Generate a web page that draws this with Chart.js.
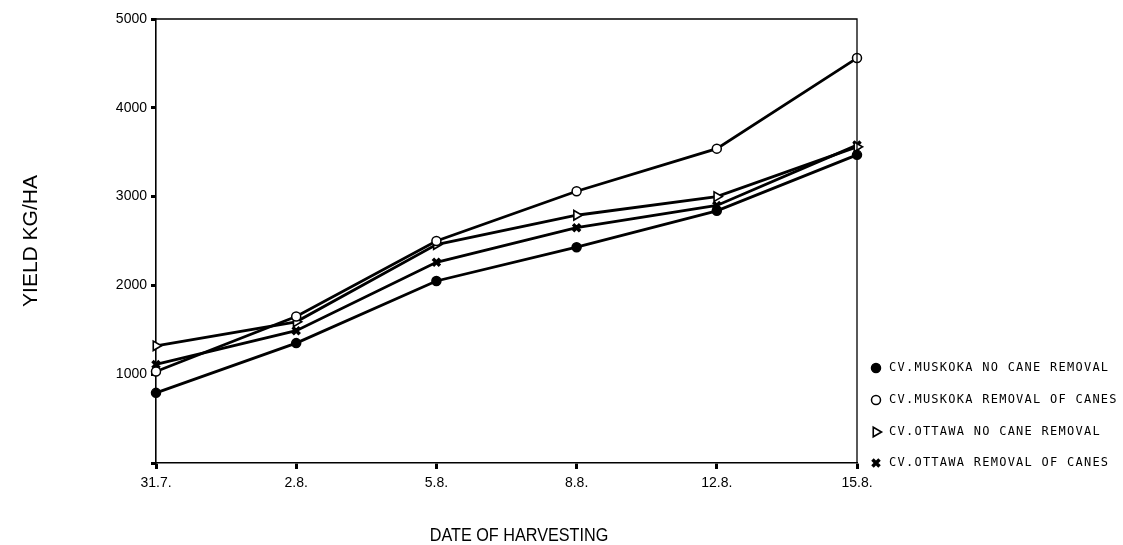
<!DOCTYPE html>
<html>
<head>
<meta charset="utf-8">
<script src="https://cdn.jsdelivr.net/npm/chart.js@4.4.1/dist/chart.umd.min.js"></script>
<style>
  html, body { margin: 0; padding: 0; background: #fff; }
  #wrap { width: 1123px; height: 545px; position: relative; }
</style>
</head>
<body>
<div id="wrap"><canvas id="chart" width="1123" height="545"></canvas></div>
<script>
"use strict";

// dates of harvesting (drawn evenly spaced like the original)
const dates = ["31.7.", "2.8.", "5.8.", "8.8.", "12.8.", "15.8."];
const yTicks = [0, 1000, 2000, 3000, 4000, 5000];

// yield kg/ha
const muskokaNoRemoval = [790, 1350, 2050, 2430, 2840, 3470];
const muskokaRemoval = [1030, 1650, 2500, 3060, 3540, 4560];
const ottawaNoRemoval = [1320, 1590, 2460, 2790, 3000, 3560];
const ottawaRemoval = [1110, 1490, 2260, 2650, 2900, 3580];

const legendNames = [
    "CV.MUSKOKA NO CANE REMOVAL",
    "CV.MUSKOKA REMOVAL OF CANES",
    "CV.OTTAWA NO CANE REMOVAL",
    "CV.OTTAWA REMOVAL OF CANES"
];

function series(label, data, style, fill, radius, rot, bw) {
    return {
        label: label,
        data: data,
        borderColor: "#000",
        borderWidth: 2.8,
        tension: 0,
        pointStyle: style,
        pointRadius: radius,
        pointRotation: rot,
        pointBackgroundColor: fill,
        pointBorderColor: "#000",
        pointBorderWidth: bw
    };
}

// top + right frame lines, x title (drawn by hand to sit like the original)
const framePlugin = {
    id: "frame",
    afterDraw(chart) {
        const a = chart.chartArea, c = chart.ctx;
        c.save();
        c.strokeStyle = "#000";
        c.lineWidth = 1.3;
        c.beginPath();
        c.moveTo(a.left, a.top);
        c.lineTo(a.right, a.top);
        c.lineTo(a.right, a.bottom);
        c.stroke();

        c.translate(519, 536);
        c.scale(0.9, 1);
        c.fillStyle = "#000";
        c.font = "18px 'Liberation Sans'";
        c.textAlign = "center";
        c.textBaseline = "middle";
        c.fillText("DATE OF HARVESTING", 0, 0);
        c.restore();
    }
};

// legend in the lower right, one row per series
const legendPlugin = {
    id: "sideLegend",
    afterDraw(chart) {
        const c = chart.ctx;
        const rows = [368, 400, 432, 463];
        c.save();
        chart.data.datasets.forEach(function (ds, i) {
            const y = rows[i];
            c.fillStyle = ds.pointBackgroundColor;
            c.strokeStyle = "#000";
            c.lineWidth = ds.pointBorderWidth;
            Chart.helpers.drawPoint(c, {
                pointStyle: ds.pointStyle,
                radius: ds.pointRadius,
                rotation: ds.pointRotation,
                borderWidth: ds.pointBorderWidth
            }, 876, y);
            c.fillStyle = "#000";
            c.font = "12px 'DejaVu Sans Mono'";
            c.letterSpacing = "1.25px";
            c.textBaseline = "middle";
            c.textAlign = "left";
            c.fillText(legendNames[i], 889, y);
        });
        c.restore();
    }
};

new Chart(document.getElementById("chart"), {
    type: "line",
    data: {
        labels: dates,
        datasets: [
            series(legendNames[0], muskokaNoRemoval, "circle", "#000", 4.5, 0, 1.5),
            series(legendNames[1], muskokaRemoval, "circle", "#fff", 4.5, 0, 1.5),
            series(legendNames[2], ottawaNoRemoval, "triangle", "#fff", 5.5, 90, 1.6),
            series(legendNames[3], ottawaRemoval, "crossRot", "#000", 5, 0, 3.5)
        ]
    },
    options: {
        responsive: false,
        animation: false,
        layout: { padding: { left: 0, right: 266, top: 19, bottom: 0 } },
        plugins: { legend: { display: false }, tooltip: { enabled: false } },
        scales: {
            x: {
                type: "category",
                offset: false,
                afterFit(s) { s.height = 82; },
                border: { display: true, color: "#000", width: 1.6 },
                grid: { drawOnChartArea: false, drawTicks: true, tickLength: 6, tickWidth: 3, tickColor: "#000" },
                ticks: {
                    color: "#000",
                    padding: 6,
                    maxRotation: 0,
                    font: { family: "'Liberation Sans Narrow', 'Liberation Sans'", size: 14 }
                },
                title: { display: false }
            },
            y: {
                min: 0,
                max: 5000,
                afterFit(s) { s.width = 156; },
                afterBuildTicks(s) { s.ticks = yTicks.map(v => ({ value: v })); },
                border: { display: true, color: "#000", width: 1.6 },
                grid: { drawOnChartArea: false, drawTicks: true, tickLength: 5, tickWidth: 3, tickColor: "#000" },
                ticks: {
                    color: "#000",
                    padding: 4,
                    font: { family: "'Liberation Sans'", size: 14 },
                    callback: v => (v === 0 ? "" : String(v))
                },
                title: {
                    display: true,
                    text: "YIELD KG/HA",
                    color: "#000",
                    padding: { top: 19, bottom: 0 },
                    font: { family: "'Liberation Sans'", size: 21 }
                }
            }
        }
    },
    plugins: [framePlugin, legendPlugin]
});
</script>
</body>
</html>
